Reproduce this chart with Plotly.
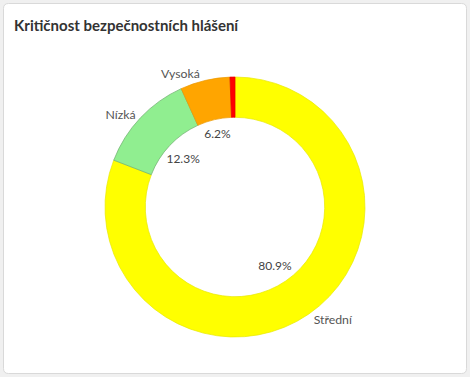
import numpy as np
import plotly.graph_objects as go

W, H = 470, 377

labels = ["Střední", "Nízká", "Vysoká", "Kritická"]
counts = [131, 20, 10, 1]
colors = ["yellow", "lightgreen", "orange", "red"]
edge_colors = ["#e8e800", "#6fae6f", "#eb9800", "#e60000"]
show_label = [True, True, True, False]

title_text = "Kritičnost bezpečnostních hlášení"

FONT = "Lato, 'Open Sans', sans-serif"

cx, cy, R = 235, 207, 130      # px
r_pct_outer = 90

def dom(r):
    return dict(x=[(cx - r) / W, (cx + r) / W],
                y=[(H - cy - r) / H, (H - cy + r) / H])

fig = go.Figure()

# main ring
fig.add_trace(go.Pie(
    labels=labels, values=counts, sort=False, direction="clockwise", rotation=0,
    hole=0.69, domain=dom(R),
    marker=dict(colors=colors, line=dict(color=edge_colors, width=0.7)),
    texttemplate=["%{label}" if s else "" for s in show_label],
    textposition="outside",
    outsidetextfont=dict(family=FONT, size=13, color="#555"),
    hoverinfo="skip", showlegend=False,
))

# percentages inside the hole
fig.add_trace(go.Pie(
    labels=labels, values=counts, sort=False, direction="clockwise", rotation=0,
    hole=0.58, domain=dom(r_pct_outer),
    marker=dict(colors=["rgba(0,0,0,0)"] * len(labels), line=dict(width=0)),
    texttemplate=["%{percent:.1%}" if s else "" for s in show_label],
    textposition="inside", insidetextorientation="horizontal",
    insidetextfont=dict(family=FONT, size=12, color="#444"),
    hoverinfo="skip", showlegend=False,
))

# card background (rounded rectangle)
x0, x1 = 3.5 / W, 466.5 / W
y0, y1 = 1 - 373.5 / H, 1 - 3.5 / H
rx, ry = 5 / W, 5 / H
path = (f"M {x0+rx},{y1} L {x1-rx},{y1} Q {x1},{y1} {x1},{y1-ry} "
        f"L {x1},{y0+ry} Q {x1},{y0} {x1-rx},{y0} L {x0+rx},{y0} "
        f"Q {x0},{y0} {x0},{y0+ry} L {x0},{y1-ry} Q {x0},{y1} {x0+rx},{y1} Z")
fig.add_shape(type="path", path=path, xref="paper", yref="paper",
              fillcolor="white", line=dict(color="#d9d9d9", width=1), layer="below")

fig.update_layout(
    width=W, height=H,
    margin=dict(l=0, r=0, t=0, b=0),
    paper_bgcolor="#f0f0f0",
    title=dict(text=f"<b>{title_text}</b>", x=14 / W, xanchor="left",
               y=1 - 26 / H, yanchor="middle",
               font=dict(family=FONT, size=15, color="#333")),
    uniformtext=dict(minsize=12, mode="show"),
)

fig.write_html("out.html", config={"displayModeBar": False},
               post_script="document.body.style.margin='0';")
